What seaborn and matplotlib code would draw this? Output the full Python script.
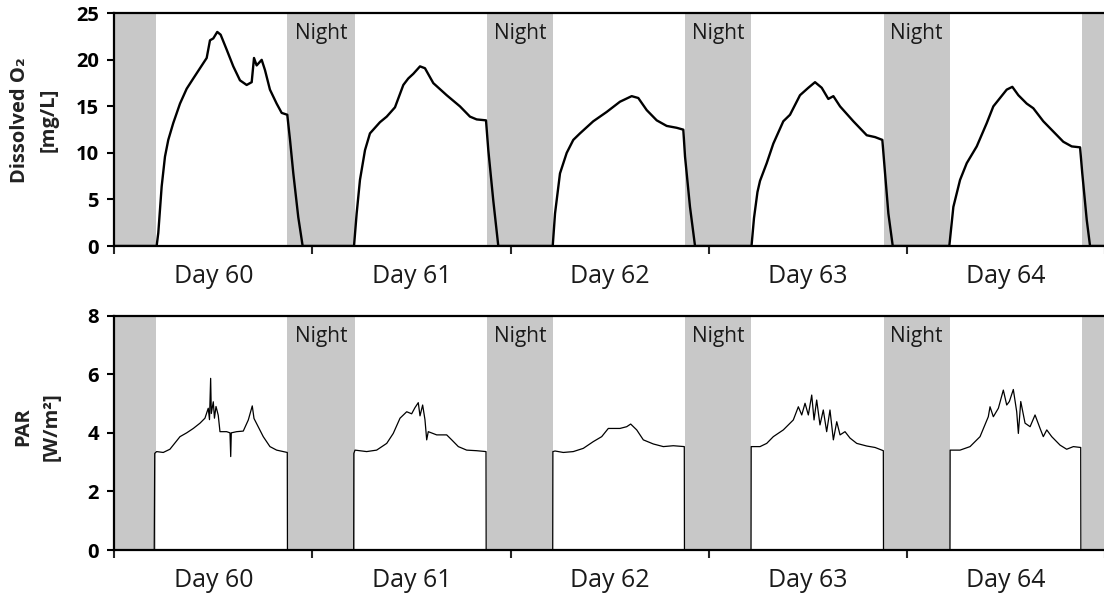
import matplotlib
matplotlib.use("Agg")
import matplotlib.pyplot as plt
import matplotlib.transforms as mtransforms
import pandas as pd
import seaborn as sns

# ---------------- data ----------------
day_labels = ["Day 60", "Day 61", "Day 62", "Day 63", "Day 64"]
day_centers = [12, 36, 60, 84, 108]          # hours
day_bounds = [0, 24, 48, 72, 96, 120]        # hours
night_starts = [-3.0, 20.95, 45.1, 69.15, 93.15, 117.15]
night_ends = [5.1, 29.1, 53.1, 77.15, 101.15, 123.0]
o2_yticks = [0, 5, 10, 15, 20, 25]
par_yticks = [0, 2, 4, 6, 8]

o2_hours = [
    0.0, 5.13, 5.33, 5.74, 6.14, 6.54, 7.14, 7.96, 8.77, 9.57, 10.38, 11.19, 11.59,
    11.99, 12.47, 12.88, 13.61, 14.41, 15.22, 16.03, 16.64, 16.92, 17.24, 17.85,
    18.25, 18.85, 19.66, 20.27, 20.95, 21.28, 21.68, 22.28, 22.81,
    29.03, 29.35, 29.75, 30.36, 30.96, 32.17, 32.99, 33.99, 35.00, 35.60, 36.21,
    37.02, 37.62, 38.63, 40.25, 41.86, 43.07, 43.88, 45.01, 45.29, 45.89, 46.50,
    53.09, 53.37, 53.97, 54.78, 55.58, 56.39, 58.00, 59.62, 61.23, 62.65, 63.45,
    64.47, 65.68, 66.89, 68.10, 68.90, 69.11, 69.71, 70.32,
    77.16, 77.46, 77.88, 78.19, 79.00, 79.80, 81.01, 81.82, 83.03, 84.04, 84.85,
    85.66, 86.46, 87.07, 87.88, 89.49, 91.11, 92.12, 93.00, 93.33, 93.73, 94.26,
    101.11, 101.60, 102.41, 103.22, 104.43, 105.64, 106.44, 107.25, 108.06, 108.74,
    109.47, 110.48, 111.28, 112.49, 113.70, 114.91, 115.93, 116.94, 117.21, 117.75,
    118.15, 120.0,
]
o2_values = [
    0.0, 0.0, 1.4, 6.4, 9.6, 11.4, 13.2, 15.3, 16.9, 18.0, 19.1, 20.2, 22.1,
    22.3, 23.0, 22.7, 21.1, 19.3, 17.8, 17.3, 17.6, 20.2, 19.4, 20.0,
    18.9, 16.8, 15.3, 14.3, 14.1, 11.4, 7.8, 3.1, 0.0,
    0.0, 3.5, 7.1, 10.3, 12.1, 13.3, 13.9, 14.9, 17.3, 18.0, 18.5,
    19.3, 19.1, 17.5, 16.2, 15.0, 13.9, 13.6, 13.5, 10.3, 4.9, 0.0,
    0.0, 3.5, 7.8, 10.0, 11.4, 12.1, 13.4, 14.4, 15.5, 16.1, 15.9,
    14.6, 13.5, 12.9, 12.7, 12.5, 9.6, 4.2, 0.0,
    0.0, 3.0, 5.8, 7.0, 8.9, 11.0, 13.4, 14.1, 16.2, 17.0, 17.6,
    17.0, 15.8, 16.1, 15.0, 13.4, 11.9, 11.7, 11.4, 7.8, 3.5, 0.0,
    0.0, 4.2, 7.1, 8.9, 10.7, 13.2, 15.0, 15.9, 16.8, 17.1,
    16.2, 15.3, 14.8, 13.4, 12.3, 11.2, 10.7, 10.6, 7.8, 2.8,
    0.0, 0.0,
]

par_hours = [
    0.0, 4.84, 4.90, 5.13, 5.93, 6.74, 7.96, 8.77, 9.57, 10.38, 10.98, 11.38, 11.53,
    11.67, 11.75, 11.99, 12.13, 12.32, 12.59, 12.80, 13.61, 14.01, 14.10, 14.17,
    14.82, 15.62, 16.23, 16.71, 16.92, 17.44, 18.04, 18.85, 19.66, 20.46, 20.95, 20.97,
    28.99, 29.01, 29.15, 30.56, 31.77, 32.99, 33.78, 34.60, 35.41, 36.01, 36.41, 36.81,
    37.02, 37.34, 37.62, 37.83, 38.02, 39.04, 40.25, 40.86, 41.66, 42.67, 43.88, 45.01, 45.03,
    53.09, 53.11, 53.37, 54.37, 55.58, 56.79, 58.00, 59.02, 59.82, 61.23, 62.05, 62.53,
    63.26, 64.06, 65.27, 66.48, 67.69, 69.02, 69.04,
    77.10, 77.12, 78.19, 79.00, 79.80, 81.01, 82.22, 82.83, 83.24, 83.64, 84.04, 84.45,
    84.73, 85.05, 85.45, 85.85, 86.26, 86.66, 87.07, 87.48, 87.88, 88.48, 89.09, 89.90,
    91.11, 92.12, 93.12, 93.14,
    101.19, 101.21, 102.41, 103.62, 104.83, 105.83, 106.04, 106.44, 107.05, 107.65, 108.06,
    108.38, 108.86, 109.27, 109.47, 109.76, 110.28, 110.89, 111.49, 112.10, 112.49, 112.91,
    113.51, 114.52, 115.32, 116.13, 117.02, 117.04, 120.0,
]
par_values = [
    0.0, 0.0, 3.30, 3.36, 3.33, 3.44, 3.87, 4.00, 4.15, 4.33, 4.50, 4.84, 4.45,
    5.86, 4.66, 5.06, 4.50, 4.90, 4.60, 4.04, 4.04, 4.00, 3.19, 4.00,
    4.04, 4.06, 4.44, 4.92, 4.49, 4.20, 3.87, 3.53, 3.41, 3.36, 3.33, 0.0,
    0.0, 3.30, 3.41, 3.36, 3.41, 3.64, 3.98, 4.50, 4.72, 4.65, 4.86, 5.03,
    4.58, 4.95, 4.45, 3.76, 4.04, 3.93, 3.93, 3.76, 3.53, 3.41, 3.39, 3.36, 0.0,
    0.0, 3.36, 3.38, 3.33, 3.36, 3.47, 3.70, 3.87, 4.15, 4.15, 4.21, 4.30,
    4.10, 3.76, 3.62, 3.53, 3.56, 3.53, 0.0,
    0.0, 3.53, 3.53, 3.64, 3.87, 4.10, 4.44, 4.89, 4.61, 5.01, 4.61, 5.29,
    4.44, 5.12, 4.27, 4.78, 4.04, 4.78, 3.76, 4.38, 3.93, 4.04, 3.82, 3.64,
    3.55, 3.50, 3.39, 0.0,
    0.0, 3.41, 3.41, 3.53, 3.87, 4.55, 4.89, 4.55, 4.84, 5.46, 4.95,
    5.07, 5.48, 4.72, 3.98, 5.07, 4.33, 4.21, 4.61, 4.15, 3.87, 4.10,
    3.87, 3.58, 3.44, 3.53, 3.50, 0.0, 0.0,
]

# ---------------- style ----------------
sns.set_style("white")
plt.rcParams["font.family"] = ["Open Sans", "DejaVu Sans"]

NIGHT_COLOR = "#c8c8c8"

fig = plt.figure(figsize=(11.04, 5.99), dpi=100)
ax1 = fig.add_axes([0.1035, 0.5893, 0.8977, 0.3885])
ax2 = fig.add_axes([0.1035, 0.0818, 0.8977, 0.3912])

o2_df = pd.DataFrame({"hour": o2_hours, "o2": o2_values})
par_df = pd.DataFrame({"hour": par_hours, "par": par_values})


def style_axis(ax, ymax, yticks):
    trans = mtransforms.blended_transform_factory(ax.transData, ax.transAxes)
    for s, e in zip(night_starts, night_ends):
        ax.axvspan(s, e, color=NIGHT_COLOR, lw=0, zorder=0)
    for i in range(1, len(night_starts) - 1):
        c = (night_starts[i] + night_ends[i]) / 2
        ax.text(c, 0.912, "Night", transform=trans,
                ha="center", va="center", fontsize=15, color="#1a1a1a", zorder=3)
    ax.set_xlim(0, 120)
    ax.set_ylim(0, ymax)
    ax.set_yticks(yticks)
    ax.set_yticklabels([str(t) for t in yticks], fontweight="bold", fontsize=14.5)
    ax.set_xticks(day_bounds)
    ax.set_xticklabels([])
    ax.tick_params(axis="y", direction="out", length=5, width=1.5, pad=6, left=True, colors="black")
    ax.tick_params(axis="x", direction="out", length=6, width=1.5, bottom=True)
    for side in ["left", "top", "bottom"]:
        ax.spines[side].set_visible(True)
        ax.spines[side].set_linewidth(1.6)
        ax.spines[side].set_color("black")
        ax.spines[side].set_zorder(4)
    ax.spines["right"].set_visible(False)
    ax.set_xlabel("")
    ax.set_ylabel("")
    for c, lab in zip(day_centers, day_labels):
        ax.text(c, -0.158, lab, transform=trans, ha="center", va="baseline",
                fontsize=18, color="#1a1a1a", clip_on=False)
    ax.set_facecolor("white")


sns.lineplot(data=o2_df, x="hour", y="o2", ax=ax1, color="black", linewidth=1.7,
             estimator=None, sort=False, errorbar=None)
sns.lineplot(data=par_df, x="hour", y="par", ax=ax2, color="black", linewidth=0.9,
             estimator=None, sort=False, errorbar=None)

style_axis(ax1, 25, o2_yticks)
style_axis(ax2, 8, par_yticks)

# y-axis labels (two lines each)
fig.text(20 / 1104, 1 - 120 / 599, "Dissolved O\u2082", rotation=90, ha="center", va="center",
         fontsize=14.5, fontweight="bold", color="#222222")
fig.text(49 / 1104, 1 - 120 / 599, "[mg/L]", rotation=90, ha="center", va="center",
         fontsize=14.5, fontweight="bold", color="#222222")
fig.text(23 / 1104, 1 - 427 / 599, "PAR", rotation=90, ha="center", va="center",
         fontsize=14.5, fontweight="bold", color="#222222")
fig.text(52 / 1104, 1 - 427 / 599, "[W/m\u00b2]", rotation=90, ha="center", va="center",
         fontsize=14.5, fontweight="bold", color="#222222")

fig.savefig("out.png", dpi=100, facecolor="white")
